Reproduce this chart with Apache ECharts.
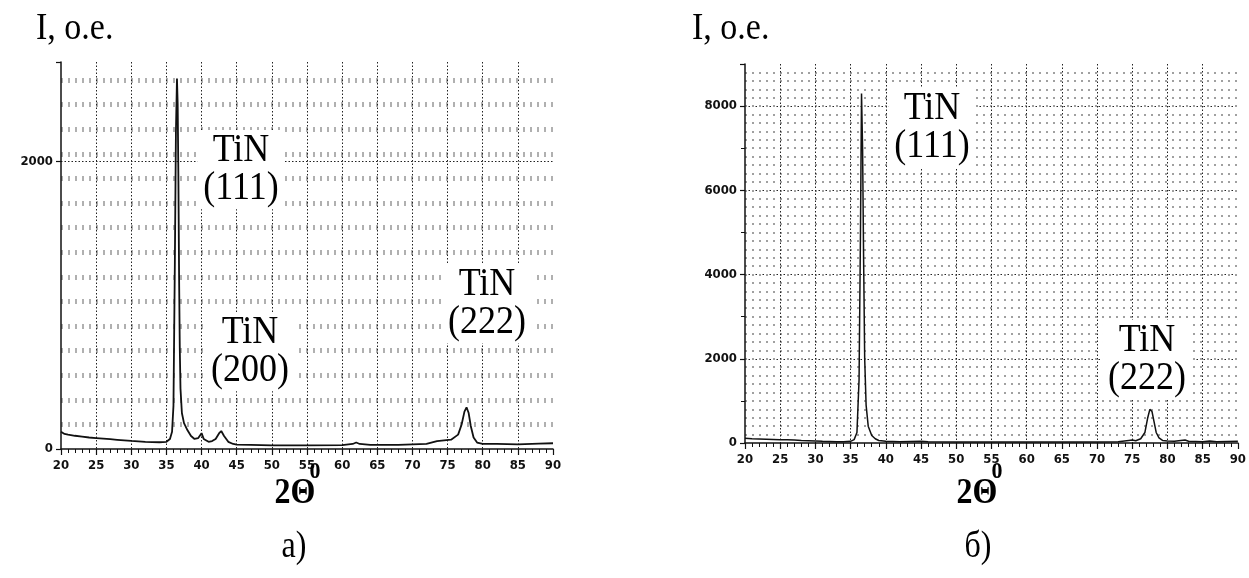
<!DOCTYPE html>
<html>
<head>
<meta charset="utf-8">
<script src="https://cdn.jsdelivr.net/npm/echarts@6/dist/echarts.min.js"></script>
<style>
  html, body { margin: 0; padding: 0; background: #fff; }
  #chart { width: 1249px; height: 578px; }
</style>
</head>
<body>
<div id="chart"></div>
<script>
// Diffractogram (а): 2θ in degrees and intensity in relative units
const twoThetaA = [20, 20.5, 21, 22, 23, 24, 25, 26, 27, 28, 29, 30, 31, 32, 33, 34, 35, 35.5, 35.8, 36,
  36.2, 36.35, 36.5, 36.6, 36.7, 36.8, 36.9, 37, 37.2, 37.5, 38, 38.5, 39, 39.5, 40, 40.3, 41, 41.5, 42, 42.5,
  42.8, 43.2, 43.8, 44.5, 45, 47, 50, 55, 60, 61.5, 62, 62.5, 64, 68, 72, 73.5, 74.5, 75.5, 76.5, 77,
  77.4, 77.7, 78, 78.3, 78.7, 79.2, 80, 82, 85, 88, 90];
const intensityA = [120, 105, 100, 92, 86, 80, 76, 72, 68, 64, 60, 56, 53, 50, 48, 47, 50, 70, 120, 300,
  1300, 2200, 2575, 2400, 1900, 1200, 700, 420, 250, 180, 130, 90, 70, 75, 110, 70, 50, 55, 70, 110,
  125, 90, 50, 35, 30, 28, 25, 25, 27, 35, 45, 35, 28, 28, 35, 55, 60, 65, 100, 170,
  260, 290, 250, 160, 80, 45, 35, 35, 32, 38, 40];

// Diffractogram (б)
const twoThetaB = [20, 21, 22, 23, 24, 25, 26, 27, 28, 29, 30, 31, 32, 33, 34, 35, 35.5, 35.9, 36.2, 36.4,
  36.55, 36.7, 36.85, 37, 37.2, 37.5, 38, 38.5, 39, 40, 42, 45, 46, 50, 55, 60, 65, 70, 73, 74.5,
  75, 75.5, 76.2, 76.8, 77.2, 77.5, 77.8, 78.1, 78.4, 78.8, 79.3, 80, 81, 82.5, 83, 85, 86, 87, 90];
const intensityB = [110, 100, 95, 90, 85, 80, 75, 70, 60, 55, 50, 40, 35, 30, 30, 40, 80, 250, 1500, 5000,
  8300, 7000, 4300, 2000, 900, 400, 180, 100, 60, 40, 30, 40, 30, 25, 25, 25, 25, 25, 30, 60,
  70, 55, 100, 250, 600, 800, 750, 500, 250, 120, 60, 50, 40, 70, 40, 30, 50, 30, 40];

// Labelled y ticks of each panel
const yLabelsA = [0, 2000];
const yLabelsB = [0, 2000, 4000, 6000, 8000];

// Texts
const yTitle = 'I, о.е.';
const xTitle = '2Θ';
const xTitleSup = 'o';
const panelNames = ['а)', 'б)'];
const peakNamesA = ['TiN\n(111)', 'TiN\n(200)', 'TiN\n(222)'];
const peakNamesB = ['TiN\n(111)', 'TiN\n(222)'];

const zip = (xs, ys) => xs.map((x, i) => [x, ys[i]]);

const tickFont = {
  fontFamily: "'Liberation Sans Narrow', 'DejaVu Sans Condensed', 'Liberation Sans', sans-serif",
  fontWeight: 'bold',
  fontSize: 13,
  color: '#111'
};

function xAxisFor(gridIndex) {
  return {
    type: 'value', gridIndex, min: 20, max: 90, interval: 5,
    axisLine: { show: true, onZero: false, lineStyle: { color: '#111', width: 1.5 } },
    axisTick: { show: true, length: 6, lineStyle: { color: '#111', width: 1.2 } },
    minorTick: { show: true, splitNumber: 5, length: 4, lineStyle: { color: '#111', width: 1 } },
    axisLabel: Object.assign({ margin: 10 }, tickFont),
    splitLine: { show: true, showMinLine: false, showMaxLine: false,
      lineStyle: { color: '#222', width: 1, type: [1.5, 2] } }
  };
}

function mainYAxis(gridIndex, max, labels, minorTicks) {
  return {
    type: 'value', gridIndex, min: 0, max, interval: 2000,
    axisLine: { show: true, onZero: false, lineStyle: { color: '#111', width: 1.5 } },
    axisTick: { show: true, length: 5, lineStyle: { color: '#111', width: 1.2 } },
    minorTick: { show: minorTicks, splitNumber: 2, length: 4, lineStyle: { color: '#111', width: 1 } },
    axisLabel: Object.assign({ margin: 8, formatter: v => labels.includes(v) ? String(v) : '' }, tickFont),
    splitLine: { show: true, showMinLine: false, showMaxLine: false,
      lineStyle: { color: '#222', width: 1, type: [1.5, 2] } }
  };
}

function minorYAxis(gridIndex, max, step, style) {
  return {
    type: 'value', gridIndex, min: 0, max, interval: step, position: 'left',
    axisLine: { show: false }, axisTick: { show: false }, axisLabel: { show: false },
    splitLine: { show: true, showMinLine: false, showMaxLine: false, lineStyle: style }
  };
}

const serif = "'Liberation Serif', 'DejaVu Serif', serif";

// Serif caption, drawn a little taller than wide
function textEl(text, x, y, font, opts, scaleY) {
  return {
    type: 'text', x, y, z: 100, scaleY: scaleY || 1.12,
    style: Object.assign({
      text, font: font + ' ' + serif, fill: '#000',
      textAlign: 'center', textVerticalAlign: 'top'
    }, opts || {})
  };
}

function peakLabel(text, x, y) {
  return textEl(text, x, y, '36px', { lineHeight: 34, backgroundColor: '#fff', padding: [2, 6, 2, 6] }, 1.1);
}

const chart = echarts.init(document.getElementById('chart'), null, { renderer: 'canvas' });

chart.setOption({
  animation: false,
  backgroundColor: '#fff',
  grid: [
    { left: 61, right: 696, top: 62, bottom: 129 },
    { left: 745, right: 11, top: 64, bottom: 135 }
  ],
  xAxis: [xAxisFor(0), xAxisFor(1)],
  yAxis: [
    mainYAxis(0, 2690, yLabelsA, false),
    minorYAxis(0, 2690, 171, { color: '#b0b0b0', width: 5, type: [2, 5] }),
    mainYAxis(1, 9000, yLabelsB, true),
    minorYAxis(1, 9000, 200, { color: '#a0a0a0', width: 2, type: [2, 5] })
  ],
  series: [
    {
      type: 'line', xAxisIndex: 0, yAxisIndex: 0, data: zip(twoThetaA, intensityA),
      showSymbol: false, lineStyle: { color: '#111', width: 1.8 }, z: 5
    },
    {
      type: 'line', xAxisIndex: 1, yAxisIndex: 2, data: zip(twoThetaB, intensityB),
      showSymbol: false, lineStyle: { color: '#111', width: 1.5 }, z: 5
    }
  ],
  graphic: [
    textEl(yTitle, 36, 10, '34px', { textAlign: 'left' }),
    textEl(yTitle, 692, 10, '34px', { textAlign: 'left' }),
    peakLabel(peakNamesA[0], 241, 130),
    peakLabel(peakNamesA[1], 250, 312),
    peakLabel(peakNamesA[2], 487, 264),
    peakLabel(peakNamesB[0], 932, 88),
    peakLabel(peakNamesB[1], 1147, 320),
    textEl(xTitle, 295, 476, 'bold 32px'),
    textEl(xTitleSup, 315, 455, 'bold 22px', null, 1.4),
    textEl(xTitle, 977, 476, 'bold 32px'),
    textEl(xTitleSup, 997, 455, 'bold 22px', null, 1.4),
    textEl(panelNames[0], 294, 528, '32px', null, 1.2),
    textEl(panelNames[1], 978, 528, '32px', null, 1.2)
  ]
});
</script>
</body>
</html>
